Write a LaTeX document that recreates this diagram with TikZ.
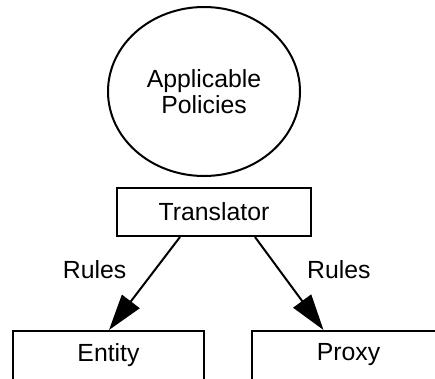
\documentclass[tikz,border=0pt]{standalone}
\usepackage{fontspec}
\setmainfont{Liberation Sans}
\usetikzlibrary{arrows.meta,shapes.geometric}

\tikzset{
  lbl/.style={font=\fontsize{24.8}{26.7}\selectfont, inner sep=0pt},
  boxnode/.style={draw, line width=2pt, rectangle, minimum height=48pt,
    inner sep=0pt, font=\fontsize{24.8}{26.7}\selectfont},
  bubble/.style={draw, line width=2pt, ellipse, minimum width=192pt,
    minimum height=169pt, inner sep=0pt, align=center,
    font=\fontsize{24.8}{26.7}\selectfont},
  flow/.style={line width=2pt, -{Triangle[length=36pt,width=22pt]}}
}

\begin{document}
\begin{tikzpicture}[x=1pt,y=-1pt]
  \clip (0,0) rectangle (435,378);
  \fill[white] (0,0) rectangle (435,378);

  % policy source
  \node[bubble] (pol) at (204,91.5) {Applicable\\Policies};

  % translator and its two targets (the lower pair runs past the bottom edge)
  \node[boxnode, minimum width=194pt] (tr) at (214,212) {Translator};
  \node[boxnode, minimum width=191pt, minimum height=54pt, text depth=11.2pt]
    (en) at (108.5,358) {Entity};
  \node[boxnode, minimum width=193pt, minimum height=54pt, text depth=11.2pt]
    (px) at (348.5,358) {Proxy};

  % rule flows
  \draw[flow] ([xshift=-34pt]tr.south) -- ([xshift=0.5pt]en.north);
  \draw[flow] ([xshift=41pt]tr.south) -- ([xshift=-25pt]px.north);

  \node[lbl] (r1) at (94.7,270) {Rules};
  \node[lbl] (r2) at (338.8,270) {Rules};
\end{tikzpicture}
\end{document}
